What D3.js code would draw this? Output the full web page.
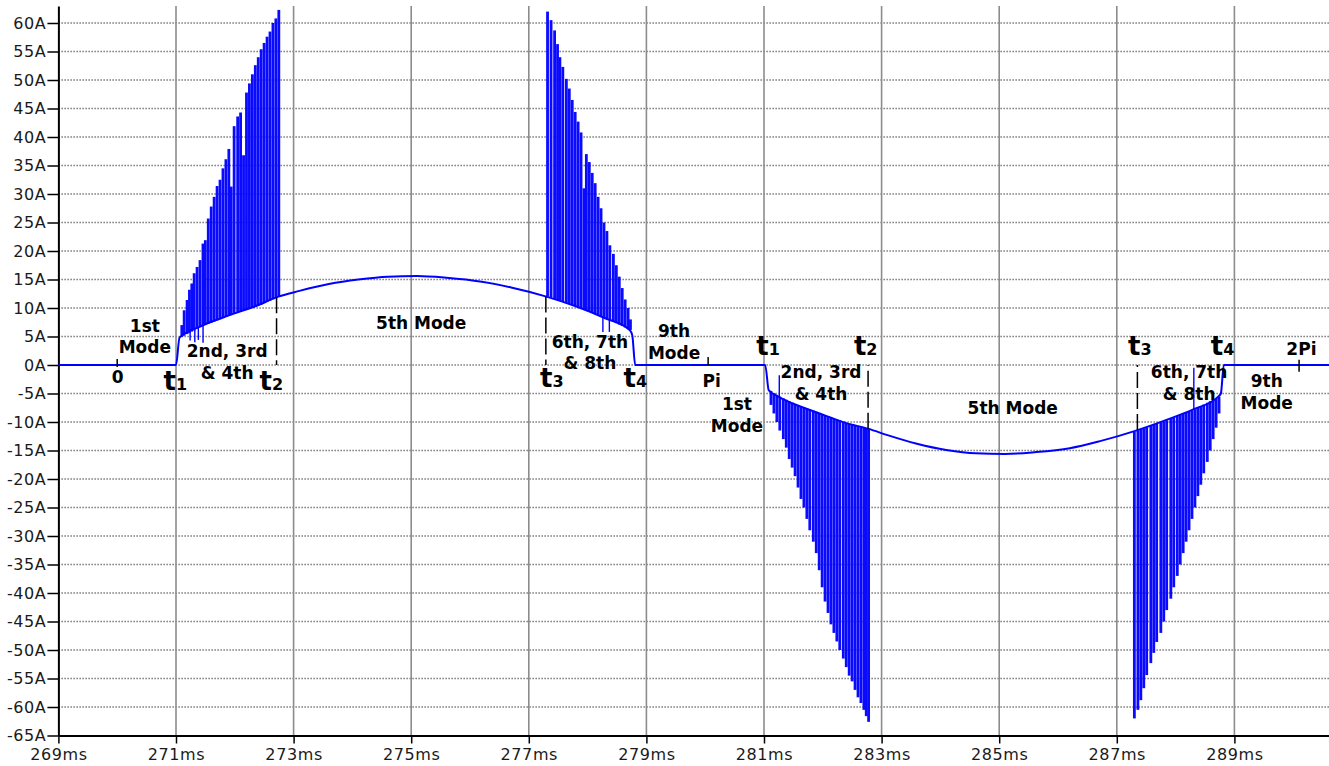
<!DOCTYPE html>
<html>
<head>
<meta charset="utf-8">
<script src="https://cdnjs.cloudflare.com/ajax/libs/d3/7.8.5/d3.min.js"></script>
<style>
body { margin: 0; background: #fff; }
</style>
</head>
<body>
<script>

// axis ticks
var xTicks = [269, 271, 273, 275, 277, 279, 281, 283, 285, 287, 289];
var yTicks = [60, 55, 50, 45, 40, 35, 30, 25, 20, 15, 10, 5, 0, -5, -10, -15, -20, -25, -30, -35, -40, -45, -50, -55, -60, -65];

// slow part of the current (zero runs, envelopes under the spikes, 5th mode arcs)
var baseMs = [269, 271.0, 271.06, 271.4, 271.9, 272.35, 272.74,
    273.1, 273.6, 274.1, 274.6, 275.1, 275.6, 276.2, 276.7, 277.3,
    277.8, 278.3, 278.72, 278.76, 278.81,
    281.02, 281.08, 281.2, 281.5, 282.0, 282.4, 282.78,
    283.1, 283.6, 284.1, 284.6, 285.1, 285.6, 286.2, 286.7, 287.3,
    287.8, 288.3, 288.73, 288.77, 288.82, 291];
var baseAmp = [0, 0, 4.8, 6.7, 8.7, 10.3, 12.0,
    13.0, 14.2, 15.0, 15.5, 15.6, 15.3, 14.6, 13.6, 12.0,
    10.3, 8.2, 6.1, 5.2, 0,
    0, -4.4, -5.3, -6.8, -8.7, -10.2, -11.2,
    -12.3, -13.8, -14.9, -15.5, -15.6, -15.3, -14.6, -13.4, -11.6,
    -9.8, -7.8, -5.5, -5.0, 0, 0];

// switching spikes, t1..t2 and t3..t4, positive half
var spk1Ms = [271.08, 271.12, 271.17, 271.21, 271.25, 271.29, 271.34, 271.39, 271.44, 271.48,
    271.53, 271.58, 271.63, 271.68, 271.73, 271.78, 271.83, 271.88, 271.92, 271.97,
    272.03, 272.08, 272.13, 272.18, 272.23, 272.28, 272.33, 272.38, 272.43, 272.48,
    272.53, 272.58, 272.63, 272.68, 272.73];
var spk1Amp = [7, 9.6, 11.4, 13.2, 14.3, 16.1, 17.2, 18.4, 21.3, 21.9,
    25.7, 27.8, 29.5, 31.4, 32.5, 34.5, 36.1, 37.9, 31.3, 41.9,
    43.6, 44.3, 36.8, 47.8, 49.4, 51, 52.6, 54, 55.4, 56.5,
    57.6, 58.5, 60, 60.8, 62.3];

var spk2Ms = [277.30, 277.36, 277.42, 277.47, 277.51, 277.56, 277.62, 277.67, 277.72, 277.77,
    277.82, 277.87, 277.92, 277.96, 278.01, 278.06, 278.11, 278.16, 278.21, 278.26,
    278.31, 278.36, 278.42, 278.47, 278.52, 278.57, 278.62, 278.67, 278.71];
var spk2Amp = [62, 60.5, 58.7, 56.3, 54, 52.3, 50.2, 48.5, 46.5, 44.4,
    42.7, 40.8, 31, 37, 35.6, 33.7, 31.9, 29.5, 27.5, 25,
    23.5, 21, 19.5, 17.5, 15.5, 13.5, 11.5, 10, 8];

// negative half
var spk3Ms = [281.10, 281.15, 281.20, 281.25, 281.31, 281.36, 281.41, 281.46, 281.51, 281.56,
    281.61, 281.66, 281.71, 281.76, 281.82, 281.87, 281.92, 281.97, 282.02, 282.07,
    282.12, 282.17, 282.22, 282.27, 282.33, 282.38, 282.43, 282.48, 282.53, 282.58,
    282.63, 282.68, 282.72, 282.76];
var spk3Amp = [-7, -8.5, -10, -11.5, -13, -14.5, -16.5, -18, -19.5, -21.5,
    -23.5, -25, -27, -29, -31, -33, -36, -39, -41.5, -43.5,
    -45.5, -47, -48.5, -50, -51.5, -53, -54.5, -55.5, -57, -58.3,
    -59.3, -60.5, -61.6, -62.6];

var spk4Ms = [287.28, 287.34, 287.39, 287.44, 287.49, 287.56, 287.61, 287.66, 287.73, 287.78,
    287.83, 287.90, 287.95, 288.01, 288.06, 288.11, 288.16, 288.21, 288.26, 288.31,
    288.36, 288.41, 288.46, 288.52, 288.57, 288.62, 288.67, 288.72];
var spk4Amp = [-62, -60.5, -58.8, -56.7, -54.4, -52.3, -50.5, -48.6, -47, -45,
    -43, -41, -39, -37, -35, -33, -31, -29, -27, -25,
    -23, -21, -19, -17, -15, -13, -11, -8.5];

// thin glitches that leave the envelope the other way
var glitchMs = [271.24, 271.32, 271.38, 271.46, 278.26, 278.37, 281.26, 288.31];
var glitchAmp = [4.3, 4.0, 4.4, 3.9, 5.8, 5.8, -1.8, -0.5];

// dashed markers at t2 / t3
var dashMs = [272.71, 277.29, 282.77, 287.35];

// mode texts: first baseline at (ms, A)
var modeText = [["1st", "Mode"], ["2nd, 3rd", "& 4th"], ["5th Mode"], ["6th, 7th", "& 8th"], ["9th", "Mode"],
    ["1st", "Mode"], ["2nd, 3rd", "& 4th"], ["5th Mode"], ["6th, 7th", "& 8th"], ["9th", "Mode"]];
var modeMs = [270.47, 271.87, 275.17, 278.04, 279.47, 280.54, 281.97, 285.23, 288.23, 289.55];
var modeAmp = [5.8, 1.4, 6.3, 3.0, 4.9, -7.9, -2.3, -8.6, -2.3, -3.9];

// t1..t4 instants
var tSub = ["1", "2", "3", "4", "1", "2", "3", "4"];
var tMs = [270.99, 272.62, 277.39, 278.81, 281.07, 282.73, 287.39, 288.80];
var tAmp = [-4.39, -4.39, -3.86, -3.86, 1.75, 1.75, 1.75, 1.75];

// phase marks 0, Pi, 2Pi
var phaseText = ["0", "Pi", "2Pi"];
var phaseMs = [270.0, 280.05, 290.1];
var phaseTickTop = [1.05, 1.4, 0.9];
var phaseTickBot = [-0.35, 0, -1.2];
var phaseLabelMs = [270.01, 280.11, 290.14];
var phaseLabelAmp = [-3.2, -3.86, 1.75];


var width = 1329, height = 766;

var svg = d3.select("body").append("svg")
    .attr("width", width)
    .attr("height", height);

var x = d3.scaleLinear().domain([269, 291]).range([58.4, 58.4 + 22 * 58.8]);
var y = d3.scaleLinear().domain([-65, 63]).range([735.5, 5.9]);

// envelope, used to find where each spike starts
var env = d3.scaleLinear().domain(baseMs).range(baseAmp);

// grid
svg.append("g").selectAll("line").data(yTicks.filter(function (d) { return d > -65; })).enter().append("line")
    .attr("x1", x(269)).attr("x2", width)
    .attr("y1", function (d) { return y(d); }).attr("y2", function (d) { return y(d); })
    .attr("stroke", "#7a7a7a").attr("stroke-width", 1.3).attr("stroke-dasharray", "1.5,1.5");

svg.append("g").selectAll("line").data(xTicks.slice(1)).enter().append("line")
    .attr("x1", function (d) { return x(d); }).attr("x2", function (d) { return x(d); })
    .attr("y1", y(63)).attr("y2", y(-65))
    .attr("stroke", "#8c8c8c").attr("stroke-width", 1.6);

// axes
var yAxis = d3.axisLeft(y).tickValues(yTicks)
    .tickFormat(function (d) { return d + "A"; })
    .tickSize(11).tickPadding(1).tickSizeOuter(0);
var xAxis = d3.axisBottom(x).tickValues(xTicks)
    .tickFormat(function (d) { return d + "ms"; })
    .tickSize(8).tickPadding(5).tickSizeOuter(0);

var gy = svg.append("g").attr("transform", "translate(" + x(269) + ",0)").call(yAxis);
var gx = svg.append("g").attr("transform", "translate(0," + y(-65) + ")").call(xAxis);

[gy, gx].forEach(function (g) {
    g.select(".domain").attr("stroke", "#000").attr("stroke-width", 2);
    g.selectAll(".tick line").attr("stroke", "#000").attr("stroke-width", 1.5);
    g.selectAll(".tick text")
        .attr("font-family", "DejaVu Sans").attr("font-size", 16)
        .attr("letter-spacing", 0.6).attr("fill", "#1a1a1a");
});

// current waveform
var wave = svg.append("g");

var line = d3.line()
    .x(function (d) { return x(d[0]); })
    .y(function (d) { return y(d[1]); })
    .curve(d3.curveMonotoneX);

var spikes = [].concat(d3.zip(spk1Ms, spk1Amp), d3.zip(spk2Ms, spk2Amp),
    d3.zip(spk3Ms, spk3Amp), d3.zip(spk4Ms, spk4Amp));

wave.selectAll("rect").data(spikes).enter().append("rect")
    .attr("x", function (d) { return x(d[0]) - 0.3; })
    .attr("width", 2.8)
    .attr("y", function (d) { return Math.min(y(d[1]), y(env(d[0]))); })
    .attr("height", function (d) { return Math.abs(y(d[1]) - y(env(d[0]))); })
    .attr("fill", "#0a0aff");

wave.selectAll("line").data(d3.zip(glitchMs, glitchAmp)).enter().append("line")
    .attr("x1", function (d) { return x(d[0]); }).attr("x2", function (d) { return x(d[0]); })
    .attr("y1", function (d) { return y(env(d[0])); }).attr("y2", function (d) { return y(d[1]); })
    .attr("stroke", "#0000ff").attr("stroke-width", 1.4);

wave.append("path")
    .datum(d3.zip(baseMs, baseAmp))
    .attr("d", line)
    .attr("fill", "none")
    .attr("stroke", "#0000ff")
    .attr("stroke-width", 2);

// markers and annotations
var notes = svg.append("g").attr("font-family", "DejaVu Sans").attr("font-weight", "bold").attr("fill", "#000");

notes.selectAll("line.dash").data(dashMs).enter().append("line")
    .attr("class", "dash")
    .attr("x1", function (d) { return x(d); }).attr("x2", function (d) { return x(d); })
    .attr("y1", function (d) { return y(env(d)); }).attr("y2", y(0))
    .attr("stroke", "#000").attr("stroke-width", 1.5).attr("stroke-dasharray", "16,5");

for (var i = 0; i < modeText.length; i++) {
    var txt = notes.append("text")
        .attr("text-anchor", "middle")
        .attr("font-size", 17)
        .attr("x", x(modeMs[i]))
        .attr("y", y(modeAmp[i]));
    modeText[i].forEach(function (s, k) {
        txt.append("tspan").attr("x", x(modeMs[i])).attr("dy", k == 0 ? 0 : 21.5).text(s);
    });
}

for (var i = 0; i < tSub.length; i++) {
    var tt = notes.append("text")
        .attr("text-anchor", "middle")
        .attr("x", x(tMs[i]))
        .attr("y", y(tAmp[i]));
    tt.append("tspan").attr("font-size", 26).text("t");
    tt.append("tspan").attr("font-size", 16).text(tSub[i]);
}

for (var i = 0; i < phaseText.length; i++) {
    notes.append("line")
        .attr("x1", x(phaseMs[i])).attr("x2", x(phaseMs[i]))
        .attr("y1", y(phaseTickTop[i])).attr("y2", y(phaseTickBot[i]))
        .attr("stroke", "#000").attr("stroke-width", 1.5);
    notes.append("text")
        .attr("text-anchor", "middle")
        .attr("font-size", 17)
        .attr("x", x(phaseLabelMs[i]))
        .attr("y", y(phaseLabelAmp[i]))
        .text(phaseText[i]);
}

</script>
</body>
</html>
